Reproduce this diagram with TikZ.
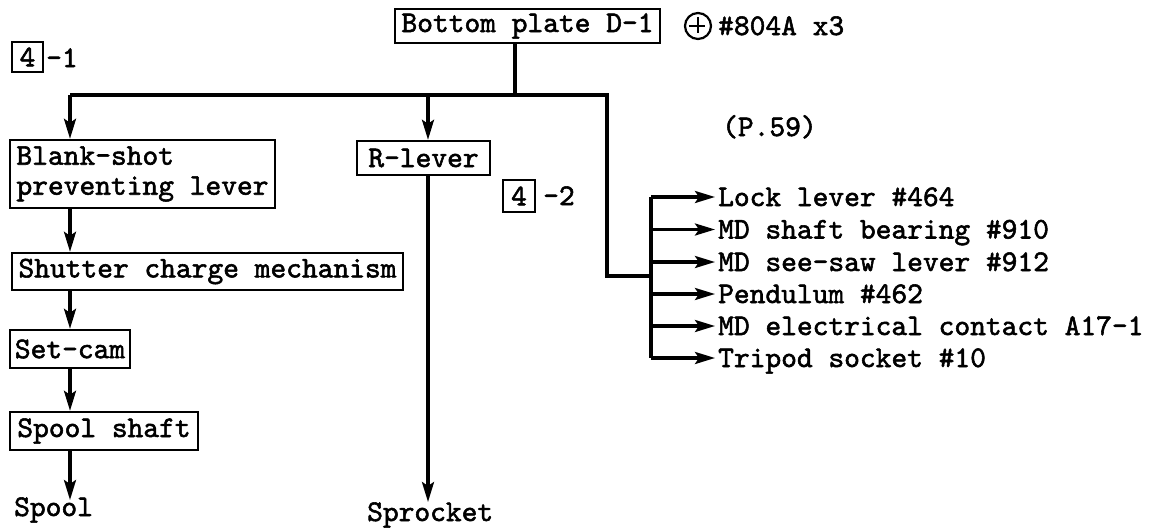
\documentclass[tikz,border=0pt]{standalone}
\usepackage{fontspec}
\setmonofont{lmmono10-regular.otf}[FakeBold=1.8]
\usetikzlibrary{arrows.meta}
\newcommand{\fbtt}{\fontsize{30}{30}\selectfont\ttfamily}
\begin{document}
\begin{tikzpicture}[x=1pt,y=-1pt,
  font=\fbtt,
  box/.style={draw, line width=2.4pt, inner sep=0pt},
  numbox/.style={draw, line width=2.2pt, inner sep=0pt, minimum width=31pt, minimum height=30pt},
  lbl/.style={inner sep=0pt, anchor=base west},
  item/.style={inner sep=0pt, anchor=west, text height=18pt, text depth=0pt},
  conn/.style={line width=3.2pt},
  arr/.style={conn, -{Stealth[length=20pt,width=12pt,inset=4pt]}}]
\useasboundingbox (0,0) rectangle (1154,530);
\fill[white] (0,0) rectangle (1154,530);

% top
\node[box, minimum width=265pt, minimum height=34pt] (bp) at (527.5,26) {Bottom plate D-1};
\node[draw, circle, line width=2.2pt, minimum size=26pt, inner sep=0pt] (plus) at (698,26) {};
\draw[line width=2.6pt] (plus.west) ++(5,0) -- ++(16,0);
\draw[line width=2.6pt] (plus.north) ++(0,5) -- ++(0,16);
\node[lbl] (screw) at (718,35) {\#804A x3};

\node[numbox] (f1) at (27.5,57) {4};
\node[lbl] (f1t) at (46,67) {-1};
\node[numbox, minimum width=32pt, minimum height=32pt] (f2) at (519,196) {4};
\node[lbl] (f2t) at (543,205) {-2};
\node[lbl] (pg) at (722,136) {(P.59)};

% left chain
\node[box, minimum width=265pt, minimum height=68pt, align=left] (blank) at (142.5,174) {Blank-shot\\preventing lever};
\node[box, minimum width=391pt, minimum height=37pt] (shutter) at (207.5,271.5) {Shutter charge mechanism};
\node[box, minimum width=120pt, minimum height=38pt] (setcam) at (70,349) {Set-cam};
\node[box, minimum width=188pt, minimum height=38pt] (spoolsh) at (104,431) {Spool shaft};
\node[lbl] (spool) at (14,516) {Spool};

% middle
\node[box, minimum width=133pt, minimum height=34pt] (rlever) at (423.5,158) {R-lever};
\node[lbl] (sprocket) at (367,521) {Sprocket};

% right list
\node[item] (i1) at (718,197) {Lock lever \#464};
\node[item] (i2) at (718,229.5) {MD shaft bearing \#910};
\node[item] (i3) at (718,262) {MD see-saw lever \#912};
\node[item] (i4) at (718,294) {Pendulum \#462};
\node[item] (i5) at (718,326) {MD electrical contact A17-1};
\node[item] (i6) at (718,358) {Tripod socket \#10};

% bus
\coordinate (busL) at (70,95);
\coordinate (stem) at (515,95);
\coordinate (rl) at (428,95);
\coordinate (busR) at (607,95);
\coordinate (join) at (651,276);
\coordinate (tr) at (651,0);
\draw[conn] (bp.south -| stem) -- (stem);
\draw[conn] (busL) -- (busR) |- (join);
\draw[arr] (busL) -- (blank.north -| busL);
\draw[arr] (rl) -- (rlever.north -| rl);
\draw[arr] (blank.south -| busL) -- (shutter.north -| busL);
\draw[arr] (shutter.south -| busL) -- (setcam.north -| busL);
\draw[arr] (setcam.south -| busL) -- (spoolsh.north -| busL);
\coordinate (spoolTop) at (70,500);
\draw[arr] (spoolsh.south -| busL) -- (spoolTop);
\coordinate (sprTop) at (428,502);
\draw[arr] (rlever.south -| rl) -- (sprTop);

% trunk
\draw[conn] (i1.west -| tr) -- (i6.west -| tr);
\foreach \i in {1,...,6} {
  \draw[arr, shorten >=3pt] (i\i.west -| tr) -- (i\i.west);
}
\end{tikzpicture}
\end{document}
